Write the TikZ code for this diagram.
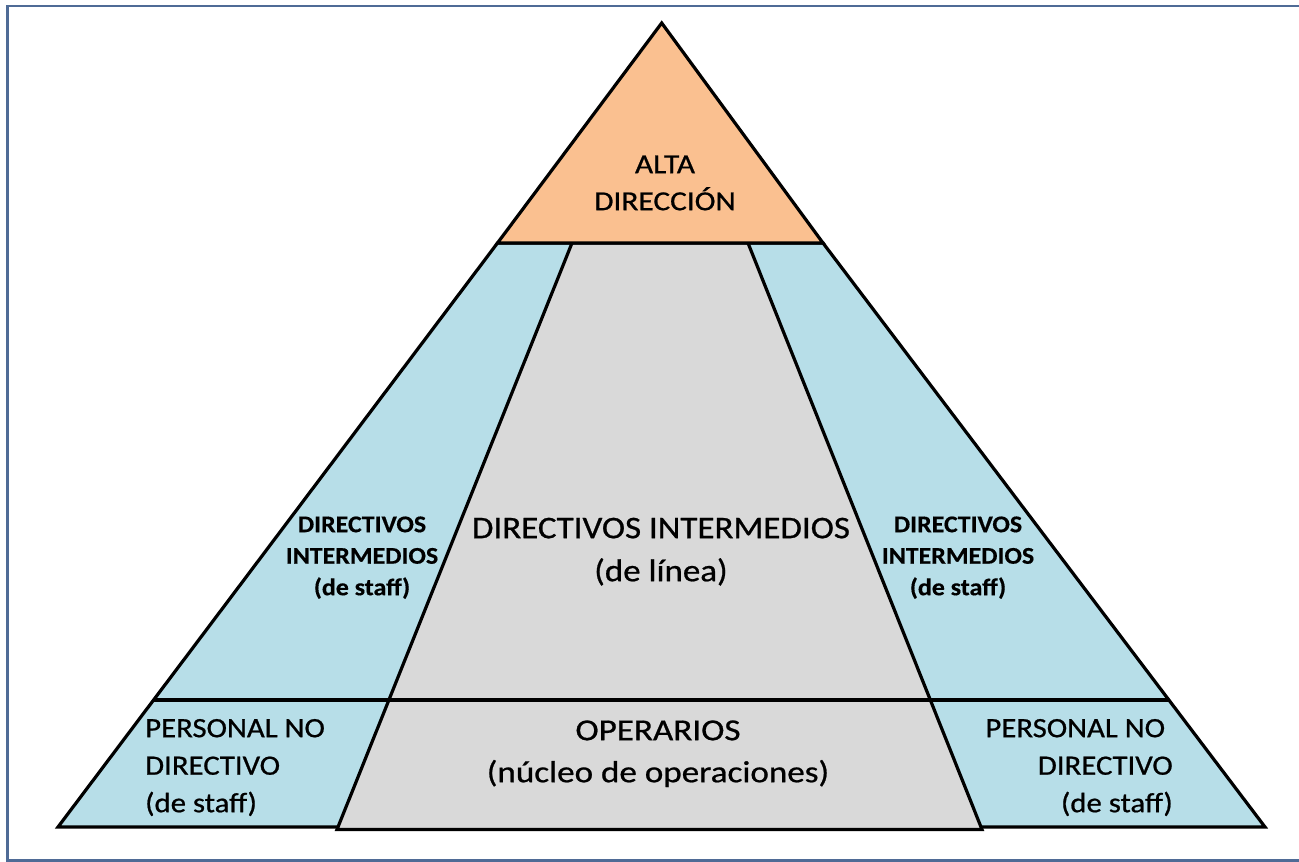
\documentclass[tikz,border=0pt]{standalone}
\usepackage{fontspec}
\usepackage{graphicx}
\setmainfont{Carlito}[UprightFeatures={FakeBold=0.7}, BoldFeatures={FakeBold=0.4}]
\definecolor{topfill}{HTML}{FAC090}
\definecolor{stafffill}{HTML}{B7DEE8}
\definecolor{linefill}{HTML}{D9D9D9}
\definecolor{framecol}{HTML}{4F6B96}
\tikzset{
  layer/.style={draw=black, line width=3.2pt, line join=miter},
  lbl/.style={inner sep=0pt, text=black},
}
% font size / baseline skip
\newcommand{\fs}[2]{\fontsize{#1}{#2}\selectfont}
% fixed-height strut so the first baseline sits 1em below the node top
\newcommand{\tstrut}{\rule{0pt}{1em}}
% horizontally widened text line
\newcommand{\widen}[2]{\scalebox{#1}[1]{#2}}
\begin{document}
\begin{tikzpicture}[x=1pt,y=-1pt]
  \useasboundingbox (0,0) rectangle (1299,862);
  % outer frame
  \draw[framecol, line width=2.2pt] (7.5,6) rectangle (1310,860.5);

  % pyramid corners
  \coordinate (apex) at (661.7,23);
  \coordinate (tl) at (497.5,243);
  \coordinate (tr) at (823,243);
  \coordinate (bl) at (58,827);
  \coordinate (br) at (1265,827);
  % staff body
  \filldraw[layer, fill=stafffill] (tl) -- (bl) -- (br) -- (tr) -- cycle;
  % line body
  \coordinate (gtl) at (572,243);
  \coordinate (gtr) at (748,243);
  \coordinate (gbr) at (982,829.5);
  \coordinate (gbl) at (337,829.5);
  \filldraw[layer, fill=linefill] (gtl) -- (gtr) -- (gbr) -- (gbl) -- cycle;
  % operating level boundary
  \coordinate (ml) at (154,700);
  \coordinate (mr) at (1168.5,700);
  \draw[layer] (ml) -- (mr);
  % top management
  \filldraw[layer, fill=topfill] (apex) -- (tl) -- (tr) -- cycle;

  % labels
  \node[lbl, anchor=north, align=center, font=\fs{27.5}{37}] (alta) at (665,173-27.5)
    {\tstrut\widen{1.14}{ALTA}\\\widen{1.14}{DIRECCIÓN}};
  \node[lbl, anchor=north, align=center, font=\fs{31.5}{43}] (dil) at (661,538-31.5)
    {\tstrut\widen{1.11}{DIRECTIVOS INTERMEDIOS}\\\widen{1.11}{(de línea)}};
  \node[lbl, anchor=north, align=center, font=\bfseries\fs{24}{31.5}] (dsl) at (362,532-24)
    {\tstrut\widen{1.08}{DIRECTIVOS}\\\widen{1.08}{INTERMEDIOS}\\\widen{1.08}{(de staff)}};
  \node[lbl, anchor=north, align=center, font=\bfseries\fs{24}{31.5}] (dsr) at (958,532-24)
    {\tstrut\widen{1.08}{DIRECTIVOS}\\\widen{1.08}{INTERMEDIOS}\\\widen{1.08}{(de staff)}};
  \node[lbl, anchor=north, align=center, font=\fs{30.5}{42}] (op) at (658,740-30.5)
    {\tstrut\widen{1.15}{OPERARIOS}\\\widen{1.15}{(núcleo de operaciones)}};
  \node[lbl, anchor=north west, align=left, font=\fs{28}{37.5}] (pnl) at (145,737-28)
    {\tstrut\widen{1.1}{PERSONAL NO}\\\widen{1.1}{DIRECTIVO}\\\widen{1.1}{(de staff)}};
  \node[lbl, anchor=north east, align=right, font=\fs{28}{37.5}] (pnr) at (1173,737-28)
    {\tstrut\widen{1.1}{PERSONAL NO\hspace{7pt}}\\\widen{1.1}{DIRECTIVO}\\\widen{1.1}{(de staff)}};
\end{tikzpicture}
\end{document}
